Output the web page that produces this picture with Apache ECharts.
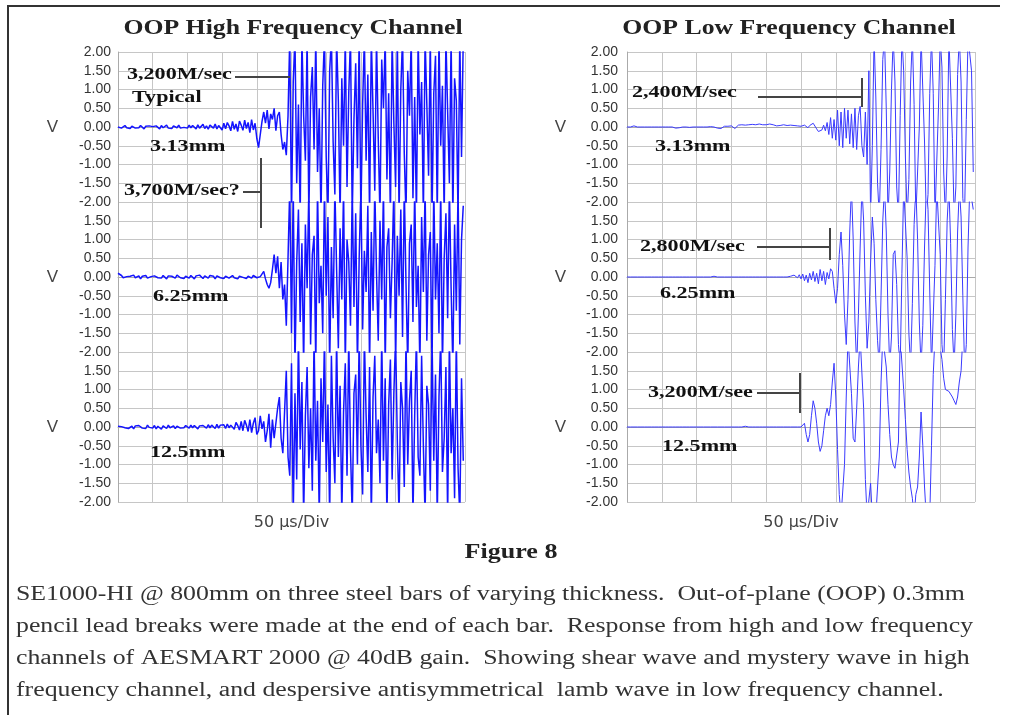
<!DOCTYPE html>
<html>
<head>
<meta charset="utf-8">
<title>Figure 8</title>
<script src="https://cdn.jsdelivr.net/npm/echarts@6/dist/echarts.min.js"></script>
<style>
  html, body { margin: 0; background: #fff; }
  #main { width: 1010px; height: 715px; }
</style>
</head>
<body>
<div id="main"></div>
<script>
// sampling step of the recorded waveforms, in microseconds (10 div x 50 us)
var sampleStep = 2.5;
var timeMax = 500;
var voltTicks = [-2, 2, 0.5];

// high frequency channel, one row of values per 50 us division
var hf313 = [
  0,.02,-.03,.01,.04,-.02,.03,-.04,.02,.05,-.03,.01,-.02,.04,.03,-.05,.02,-.01,.03,-.02,
  .01,-.04,.03,.02,-.05,.04,-.02,.01,.05,-.03,.02,-.04,.03,.01,-.02,.05,-.03,.02,-.01,.04,
  -.03,.05,-.02,.04,.01,-.05,.06,-.03,.02,.07,-.04,.03,-.06,.05,.02,-.03,.08,-.05,.04,.06,
  -.08,.1,-.05,.12,.03,-.1,.15,-.06,.08,-.12,.16,.05,-.09,.18,-.04,.12,-.15,.2,-.08,.1,
  -.3,-.55,-.2,.15,.4,.1,.45,-.05,.35,.2,.5,-.1,.3,.4,-.2,-.6,-.4,-.75,.3,2.4,
  -2.4,1.2,2.4,-1.5,.6,-2.4,2.4,.3,-.9,2.4,-2.4,.8,1.6,-.6,2.4,-1.2,.5,-2.4,1.1,2.4,
  -.8,-2.4,1.5,2.4,-.4,-1.8,2.4,.7,-2.4,1.3,-.5,2.4,-1.6,.9,2.4,-2.4,.2,1.7,-1.1,2.4,
  -2.4,.6,2.4,-.9,1.4,-2.4,2.4,.4,-1.7,2.4,-.3,-2.4,1.8,.5,2.4,-1.4,.9,-2.4,2.4,.1,
  -1.6,2.4,-2.4,1,2.4,-.7,-2.4,1.5,.3,2.4,-1.9,.8,-2.4,2.4,-.2,1.2,-2.4,2.4,.6,-1.3,
  2.4,-2.4,.9,1.9,-2.4,2.4,-.5,1.1,-2.4,2.4,.4,-1.5,2.4,-2.4,1.3,.7,-2.4,2.4,-.8,2.4
];
var hf625 = [
  .1,.06,.04,-.02,.03,.01,-.04,.02,-.03,.05,-.02,.01,.03,-.05,.02,-.01,.04,-.03,.02,.01,
  -.04,.03,.05,-.02,.01,-.03,.04,.02,-.05,.03,-.01,.02,.04,-.03,.05,.01,-.02,.03,-.04,.02,
  .01,-.03,.04,.02,-.05,.03,-.02,.05,.01,-.04,.03,.02,-.03,.04,-.01,.02,-.05,.03,.01,-.02,
  .03,-.04,.02,.05,-.03,.01,.04,-.02,.03,-.05,.02,.04,-.01,.03,-.04,.02,.01,-.03,.04,.02,
  -.02,.03,.01,.05,.15,-.05,-.2,-.3,-.15,.2,.6,.1,.55,-.3,.4,-.6,-.2,-1.3,.5,2.4,
  -1.5,2.4,-2.4,.4,1.8,-1.2,.9,-2.4,1.4,-.3,2.4,-1.8,.6,1.1,-2.4,2.4,-.7,.3,-1.5,2.4,
  -.5,1.6,-2.4,.8,-1.1,2.4,.2,-1.9,1.3,-.6,2.4,-2.4,1,.4,-1.3,2.4,-.8,1.7,-2.4,.5,
  2.4,-1.4,.7,-.4,1.9,-2.4,1.2,-.9,2.4,.1,-1.7,1.5,-.6,2.4,-2.4,.8,1.3,-1.1,.4,2.4,
  -2.4,1.1,-.5,1.8,-1.6,2.4,-.2,-2.4,.9,1.4,-1.2,2.4,-.8,.3,-2.4,1.6,-.4,2.4,-1.7,.6,
  1.2,-2.4,2.4,-.6,.9,-1.5,2.4,-2.4,.5,1.7,-1.1,2.4,-.3,-2.4,1.4,-.9,2.4,-1.8,1,1.9
];
var hf125 = [
  .02,-.03,.01,.04,-.02,.03,-.04,.01,.02,-.05,.03,-.02,.04,.01,-.03,.02,-.04,.05,-.01,.02,
  -.03,.04,-.05,.02,.01,-.06,.03,.02,-.04,.05,-.02,.01,.03,-.04,.02,.05,-.03,.01,-.02,.04,
  .01,-.03,.05,-.02,.04,.02,-.05,.03,-.01,.04,.02,-.03,.06,-.02,.05,.03,-.04,.07,-.03,.05,
  .02,.06,-.04,.08,-.02,.05,.1,-.06,.12,.04,-.08,.15,-.1,.18,.05,-.12,.2,-.15,.1,.25,
  -.2,-.1,.3,-.05,.15,-.4,-.1,.35,-.55,.2,-.3,.1,.5,.8,-.3,-.7,.4,1.5,-.8,-1.3,
  1.7,-2.4,.9,-1.4,2.4,-.6,1.2,-2.4,.3,1.6,-1.1,.5,-1.7,2.4,-.9,.7,-2.4,1.3,-.4,2.4,
  -1.2,.6,-2.4,1.9,-.3,-1.5,2.4,-.8,1.1,-2.4,.4,1.7,-1.3,2.4,-.6,-2.4,.9,1.4,-1,2.4,
  -.5,-1.8,2.4,.3,-1.2,1.6,-2.4,.8,1.9,-.7,.2,-1.5,2.4,-.9,1.3,-2.4,.6,1.8,-1.4,.9,
  2.4,-.4,-2.4,1.2,.5,-1.6,2.4,-1,.7,1.5,-2.4,.3,2.4,-.8,-1.3,1.9,-.5,-2.4,1.1,.6,
  -1.7,2.4,-.9,1.4,-2.4,.8,2.4,-1.2,-.3,1.6,-2.4,2.4,-.7,.5,-1.9,2.4,-1.1,-2.4,1.3,-.9
];

// low frequency channel
var lf313 = [
  0,0,0,0,.03,0,0,0,0,0,0,0,0,0,0,0,0,0,0,0,
  0,0,0,0,0,0,0,.01,-.03,-.05,-.02,0,0,.01,0,0,-.01,0,0,0,
  0,0,0,-.02,0,0,0,0,.01,0,0,0,-.03,-.08,-.04,0,.02,.03,.02,.04,
  .03,.02,-.04,-.06,.05,.04,.06,.03,.05,.08,.06,.04,.07,.05,.06,.04,.08,.05,.06,.07,
  .06,.05,.08,.04,.06,.05,.03,.06,.04,.05,.06,.05,.04,.07,.05,.06,.04,.05,.03,.02,
  .02,0,.05,.03,-.02,.04,.08,.1,.06,-.05,-.12,-.15,-.08,.05,-.1,.12,-.2,.25,-.3,.2,
  -.35,.45,-.5,.4,-.55,.5,-.3,.45,-.45,.35,-.55,.5,-.6,.3,.55,-.5,-.8,.4,-1,1.5,
  -2.4,-.5,2.4,.8,-1.5,-2.4,-.6,1.8,2.4,.5,-2.4,-1.2,1,2.4,1.2,-1.6,-2.4,.3,2.4,1.5,
  -.8,-2.4,-1.4,1.2,2.4,.6,-2.4,-2.4,0,2.4,2.4,-.4,-2.4,-1.8,.9,2.4,.9,-2.4,-2.4,.5,
  2.4,1.6,-1.2,-2.4,-.8,2.4,2.4,-.3,-2.4,-1.6,1.4,2.4,1.2,-1.9,-2.4,.2,2.4,2.4,1.5,-1.2
];
var lf625 = [
  0,0,0,0,0,0,0,0,0,0,0,0,0,0,0,0,0,0,0,0,
  0,0,0,0,0,0,0,0,0,0,0,0,0,0,0,0,0,0,0,0,
  0,0,0,0,0,0,0,0,0,0,.02,0,0,0,0,0,0,0,0,0,
  0,0,0,0,0,0,0,0,0,0,0,0,0,.02,0,0,0,0,0,0,
  0,0,0,0,0,0,0,0,0,0,0,0,0,.03,.02,0,.05,.03,-.02,.06,
  -.05,.08,-.1,.05,-.15,.1,-.08,.15,-.12,.1,-.18,.2,-.1,.15,-.2,.12,-.05,.22,.15,-.3,
  -.7,-.3,.6,1.2,.3,-1,-1.8,-.6,1.2,2.4,1,-1.2,-2.4,-1,.8,2.4,1.5,-.5,-1.9,-1.2,
  .4,1.6,.9,-.6,-1.7,-2.4,-.5,1.5,2.4,1.2,-1,-2.4,-1.6,.6,.7,-.2,-1.8,-2.4,.1,2.4,
  2.4,.5,-1.5,-2.4,-.7,1.4,2.4,1,-1.2,-2.4,-1.3,.8,2.4,1.8,-.4,-2.4,-2.4,.3,2.4,2.4,
  .6,-1.8,-2.4,-.6,1.5,2.4,.9,-1.4,-2.4,-1,1.2,2.4,1.6,-.5,-2.4,-1.8,.8,2.4,2.4,1.8
];
var lf125 = [
  0,0,0,0,0,0,0,0,0,0,0,0,0,0,0,0,0,0,0,0,
  0,0,0,0,0,0,0,0,0,0,0,0,0,0,0,0,0,0,0,0,
  0,0,0,0,0,0,0,0,0,0,0,0,0,0,0,.02,0,0,0,0,
  0,0,0,0,0,0,0,0,.02,0,0,0,0,0,0,0,0,0,0,0,
  0,0,0,0,0,0,0,0,0,0,0,0,0,0,0,0,0,0,0,0,
  0,-.05,.1,-.2,-.4,-.2,.3,.7,.5,.1,-.4,-.65,-.5,-.1,.3,.5,.3,.6,1.2,1.7,
  .8,-.6,-1.8,-2.4,-2.4,-1,.8,2.4,2.4,.9,-.3,-.4,.5,1.6,2.4,2.4,.5,-1.4,-2.4,-2.4,
  -1.5,-2.4,-2.4,-2.4,-2.4,-.8,1.2,2.4,2.4,1.6,.6,-.2,-.8,-1,-1.1,-1.05,-.4,2.4,2.4,1,
  .2,-.6,-1.2,-1.6,-1.9,-2.4,-1.8,-1.6,-.8,.4,-.5,-1.6,-2.4,-2.4,-2.4,-.5,1.4,2.4,2.4,2.4,
  2.4,1.8,1.3,1,1,.95,.9,.8,.7,.6,.8,1.2,1.5,2.4,2.4,2.4,2.4,2.4,2.4,2.4
];

var panelNames = ['3.13mm', '6.25mm', '12.5mm'];

function toPoints(vals) {
  return vals.map(function (v, i) { return [i * sampleStep, v]; });
}

var chart = echarts.init(document.getElementById('main'));

var waves = [hf313, hf625, hf125, lf313, lf625, lf125];
var grids = [], xAxes = [], yAxes = [], series = [];
var gridColor = '#c6c6c6';

for (var i = 0; i < 6; i++) {
  var col = i < 3 ? 0 : 1;
  var row = i % 3;
  grids.push({
    left: col ? 627 : 118,
    width: col ? 348 : 347,
    top: 52 + row * 150,
    height: 150
  });
  xAxes.push({
    gridIndex: i, type: 'value', min: 0, max: timeMax, interval: 50,
    axisLine: { show: true, lineStyle: { color: '#aaa' } },
    axisTick: { show: false }, axisLabel: { show: false },
    splitLine: { show: true, lineStyle: { color: gridColor, width: 1 } },
    name: row === 2 ? '50 \u00b5s/Div' : '',
    nameLocation: 'middle', nameGap: 13,
    nameTextStyle: { fontFamily: 'DejaVu Sans', fontSize: 16, color: '#444' }
  });
  yAxes.push({
    gridIndex: i, type: 'value', min: voltTicks[0], max: voltTicks[1], interval: voltTicks[2],
    axisLine: { show: true, lineStyle: { color: '#aaa' } },
    axisTick: { show: false },
    axisLabel: {
      fontFamily: 'Liberation Sans', fontSize: 14, color: '#333', margin: col ? 9 : 7,
      showMaxLabel: row === 0,
      formatter: function (v) { return v.toFixed(2); }
    },
    splitLine: { show: true, lineStyle: { color: gridColor, width: 1 } },
    name: 'V', nameLocation: 'middle', nameRotate: 0, nameGap: col ? 61 : 60,
    nameTextStyle: { fontFamily: 'Liberation Sans', fontSize: 17, color: '#444' }
  });
  series.push({
    type: 'line', xAxisIndex: i, yAxisIndex: i,
    data: toPoints(waves[i]),
    showSymbol: false, clip: true, silent: true,
    lineStyle: { color: col ? '#3a3aff' : '#1414ff', width: col ? 1 : 1.5 }
  });
}

var boldNote = 'bold 16px "Liberation Serif"';
var noteColor = '#111';
var noteStretch = 1.38;
var leader = { stroke: '#444', lineWidth: 2 };

function note(text, x, y) {
  return { type: 'text', x: x, y: y, scaleX: noteStretch, z: 6,
    style: { text: text, font: boldNote, fill: noteColor, verticalAlign: 'middle' } };
}
function seg(x1, y1, x2, y2) {
  return { type: 'line', shape: { x1: x1, y1: y1, x2: x2, y2: y2 }, style: leader, z: 5 };
}
function centered(text, cx, cy, font, stretch) {
  return { type: 'text', x: cx, y: cy, scaleX: stretch,
    style: { text: text, font: font, fill: '#222', align: 'center', verticalAlign: 'middle' } };
}

var captionLines = [
  'SE1000-HI @ 800mm on three steel bars of varying thickness.  Out-of-plane (OOP) 0.3mm',
  'pencil lead breaks were made at the end of each bar.  Response from high and low frequency',
  'channels of AESMART 2000 @ 40dB gain.  Showing shear wave and mystery wave in high',
  'frequency channel, and despersive antisymmetrical  lamb wave in low frequency channel.'
];

var graphics = [
  { type: 'polyline', shape: { points: [[8, 715], [8, 6], [1000, 6]] }, style: { stroke: '#333', lineWidth: 2, fill: null } },
  centered('OOP High Frequency Channel', 293, 28, 'bold 22px "Liberation Serif"', 1.17),
  centered('OOP Low Frequency Channel', 789, 28, 'bold 22px "Liberation Serif"', 1.17),
  centered('Figure 8', 511, 553, 'bold 21px "Liberation Serif"', 1.24),
  // high frequency notes
  note('3,200M/sec', 127, 75), seg(235, 77, 290, 77),
  note('Typical', 132, 98),
  note(panelNames[0], 150, 147),
  note('3,700M/sec?', 124, 191), seg(243, 192, 261, 192), seg(261, 158, 261, 228),
  note(panelNames[1], 153, 297),
  note(panelNames[2], 150, 453),
  // low frequency notes
  note('2,400M/sec', 632, 93), seg(758, 97, 862, 97), seg(862, 78, 862, 107),
  note(panelNames[0], 655, 147),
  note('2,800M/sec', 640, 247), seg(757, 247, 830, 247), seg(830, 228, 830, 260),
  note(panelNames[1], 660, 294),
  note('3,200M/see', 648, 393), seg(757, 393, 800, 393), seg(800, 373, 800, 413),
  note(panelNames[2], 662, 447)
];
captionLines.forEach(function (line, k) {
  graphics.push({ type: 'text', x: 16, y: 595 + k * 32, scaleX: 1.29,
    style: { text: line, font: '20px "Liberation Serif"', fill: '#333', verticalAlign: 'middle' } });
});

chart.setOption({
  animation: false,
  backgroundColor: '#fff',
  grid: grids,
  xAxis: xAxes,
  yAxis: yAxes,
  series: series,
  graphic: graphics
});
</script>
</body>
</html>
